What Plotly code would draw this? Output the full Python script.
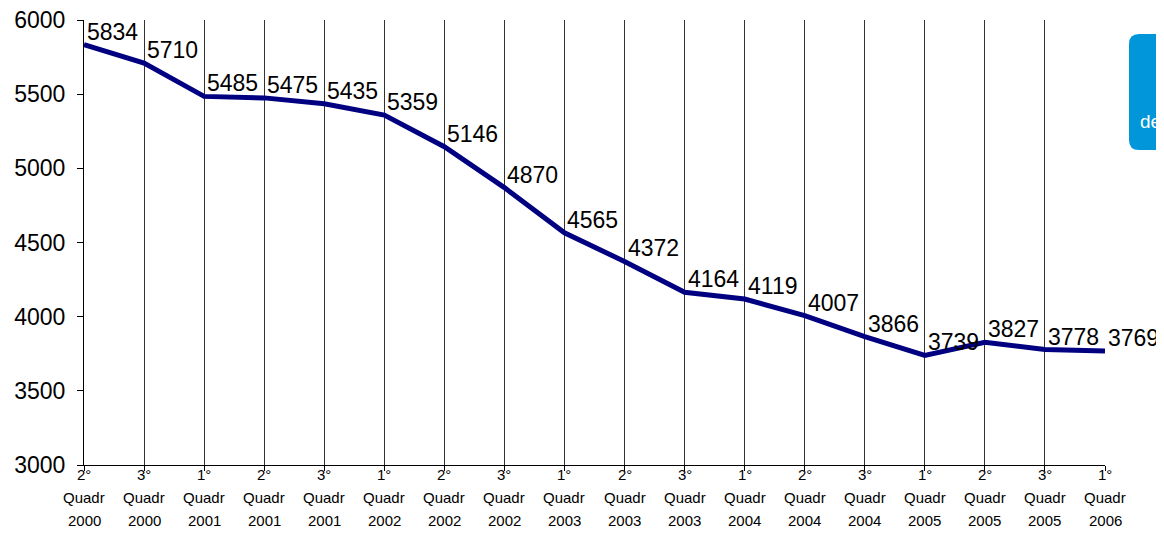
import plotly.graph_objects as go

quarters = ["2°", "3°", "1°", "2°", "3°", "1°", "2°", "3°", "1°", "2°", "3°", "1°", "2°", "3°", "1°", "2°", "3°", "1°"]
years = ["2000", "2000", "2001", "2001", "2001", "2002", "2002", "2002", "2003", "2003", "2003",
         "2004", "2004", "2004", "2005", "2005", "2005", "2006"]
values = [5834, 5710, 5485, 5475, 5435, 5359, 5146, 4870, 4565, 4372, 4164,
          4119, 4007, 3866, 3739, 3827, 3778, 3769]
y_ticks = [3000, 3500, 4000, 4500, 5000, 5500, 6000]

FONT = "Arial, Liberation Sans, sans-serif"
xs = list(range(len(values)))

fig = go.Figure()
fig.add_trace(go.Scatter(
    x=xs, y=values, mode="lines",
    line=dict(color="#000080", width=5),
    hoverinfo="skip", showlegend=False,
))

annotations = []
for x, v in zip(xs, values):
    annotations.append(dict(
        x=x, y=v, xref="x", yref="y", text=str(v), showarrow=False,
        xanchor="left", yanchor="bottom", xshift=1, yshift=-2,
        font=dict(family=FONT, size=23, color="black"),
    ))
for x, q, yr in zip(xs, quarters, years):
    for txt, dy in ((q, -9), ("Quadr", -32), (yr, -55)):
        annotations.append(dict(
            x=x, y=0, xref="x", yref="paper", text=txt, showarrow=False,
            xanchor="center", yanchor="middle", yshift=dy,
            font=dict(family=FONT, size=15, color="black"),
        ))

# partial blue box at top right (cut by the right edge)
x0, x1 = (1129 - 84) / 1021, 1.12
y0, y1 = (465 - 150) / 445, (465 - 34) / 445
rx, ry = 10 / 1021, 10 / 445
path = (f"M {x0+rx} {y1} L {x1} {y1} L {x1} {y0} L {x0+rx} {y0} "
        f"Q {x0} {y0} {x0} {y0+ry} L {x0} {y1-ry} Q {x0} {y1} {x0+rx} {y1} Z")
shapes = [dict(type="path", path=path, xref="paper", yref="paper",
               fillcolor="#0096D9", line=dict(width=0), layer="above")]
annotations.append(dict(
    x=(1138 - 84) / 1021, y=(465 - 122) / 445, xref="paper", yref="paper",
    text="de", showarrow=False, xanchor="left", yanchor="middle",
    font=dict(family=FONT, size=19, color="white"),
))

fig.update_layout(
    width=1156, height=537,
    margin=dict(l=76, r=59, t=12, b=80, autoexpand=False),
    plot_bgcolor="white", paper_bgcolor="white",
    annotations=annotations, shapes=shapes,
    xaxis=dict(
        range=[0, len(values) - 1], tickvals=xs, showticklabels=False,
        showgrid=True, gridcolor="#333333", gridwidth=1,
        showline=True, linecolor="black", linewidth=1,
        ticks="outside", ticklen=5, tickcolor="black", zeroline=False,
        automargin=False,
    ),
    yaxis=dict(
        range=[3000, 6000], tickvals=y_ticks, showgrid=False,
        showline=True, linecolor="black", linewidth=1,
        ticks="outside", ticklen=6, tickcolor="black", zeroline=False,
        tickfont=dict(family=FONT, size=23, color="black"),
        ticklabelstandoff=7, automargin=False, ticklabeloverflow="allow",
    ),
)

fig.write_html("out.html")
